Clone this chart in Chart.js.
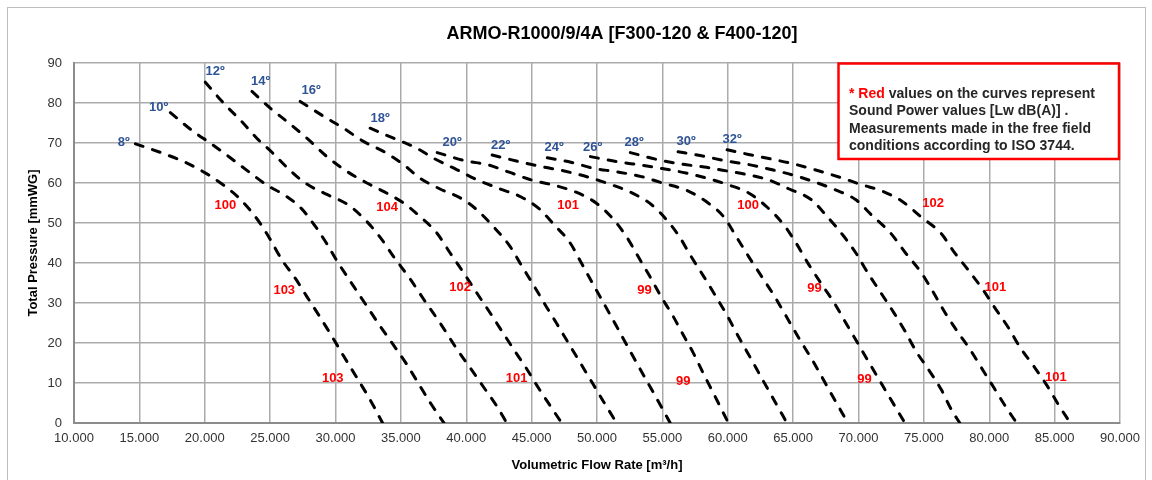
<!DOCTYPE html>
<html><head><meta charset="utf-8">
<script src="https://cdn.jsdelivr.net/npm/chart.js@4/dist/chart.umd.min.js"></script>
<style>html,body{margin:0;padding:0;background:#fff;}canvas{display:block}</style>
</head><body>
<canvas id="c" width="1152" height="480"></canvas>
<script>
// ---------- DATA ----------
const chartTitle = 'ARMO-R1000/9/4A [F300-120 & F400-120]';
const xAxisTitle = 'Volumetric Flow Rate [m³/h]';
const yAxisTitle = 'Total Pressure [mmWG]';

// Fan curves per blade angle: [flow m3/h, pressure mmWG]
const curve8  = [[14700,69.8],[16900,67.3],[18500,65.2],[20100,62.4],[21500,59.3],[22700,56],[24000,51],[24900,46.5],[25900,40.8],[26920,36.2],[27810,31.6],[28830,26.4],[29850,21],[30610,16.8],[31640,11.3],[32650,5.8],[33600,0]];
const curve10 = [[17370,77.6],[19040,73.1],[20500,69.8],[21800,66.7],[23250,63.1],[24700,59.6],[26230,56.7],[27400,53.6],[28450,49.2],[29300,45],[30100,40.6],[31380,34.2],[32400,29.2],[33420,24.2],[34690,18.3],[35460,14.6],[36470,9.2],[37300,4.8],[38300,0]];
const curve12 = [[20040,85.2],[21490,79.8],[22790,75.5],[23980,71.2],[25200,67.5],[26380,63.6],[27680,60],[29290,57.2],[30890,54.7],[32270,50.8],[33420,46.4],[34440,41.6],[35710,36],[36730,31],[38000,25],[39280,18.5],[40300,13.8],[41320,9],[42340,4.2],[43100,0]];
const curve14 = [[23610,82.9],[25010,78.7],[26280,75.4],[27810,71.2],[29340,66.6],[30870,62.9],[32400,60],[33670,57.9],[35200,55],[36470,51.6],[37750,47.5],[38770,42.5],[39790,37.6],[40810,32.5],[41830,27.5],[42600,23.6],[43610,18.5],[44630,13.5],[45400,9.4],[46420,4.3],[47300,0]];
const curve16 = [[27300,80.4],[29080,76.7],[30610,73.7],[32140,70.4],[33670,67.9],[35200,64.6],[36470,61.2],[38000,58.5],[39700,56],[40810,53.3],[42100,49],[43360,44.1],[44130,39.9],[45140,34.5],[46160,28.9],[46930,24.8],[47940,19.3],[48710,15.1],[49720,9.6],[50490,5.4],[51500,0]];
const curve18 = [[32650,73.7],[34440,71.2],[36220,68.7],[37500,66.2],[39300,63.3],[40830,60.8],[42600,58.5],[44200,56.5],[45600,53.5],[46650,49.8],[47950,45],[48840,39.8],[49600,35.3],[50490,30.1],[51390,24.8],[52280,19.5],[53040,15],[53810,10.5],[54570,6.1],[55600,0]];
const curve20 = [[37780,67.6],[40000,65.5],[41600,64.6],[43280,62.7],[45040,60.7],[46650,59.5],[48400,57.7],[49930,55],[51230,51],[52250,46.6],[53150,41.6],[54050,36.6],[54900,31.6],[55800,26.8],[56600,22],[57350,17.6],[58100,12.6],[58880,7.6],[59650,2.6],[60050,0]];
const curve22 = [[41980,67],[44200,65.2],[45900,64],[47500,63],[49300,61.5],[50900,59.8],[52500,57.8],[54200,54.5],[55450,50.3],[56300,46.6],[57200,41.6],[58170,36.6],[59100,31.6],[60000,26.6],[60750,22],[61700,16.5],[62700,10.6],[63600,5.4],[64530,0]];
const curve24 = [[46200,66.3],[48000,65.2],[49700,63.7],[51500,62.8],[53400,61.6],[55000,60],[56900,58.1],[58500,55],[59700,51.5],[60650,46.6],[61600,41.6],[62600,36.6],[63550,31.8],[64450,26.8],[65300,22],[66600,15],[67900,7.4],[69190,0]];
const curve26 = [[49500,66.6],[51600,65.3],[53300,64.5],[55000,63.6],[56800,62.5],[58400,61.2],[60000,59.6],[61600,57.5],[63000,54],[64300,49.5],[65300,44.6],[66200,39.6],[67200,34.6],[68150,30],[69000,25.2],[69700,21.3],[70900,14.6],[72200,7.4],[73550,0]];
const curve28 = [[52550,67.6],[54700,65.8],[56500,64.7],[58200,64],[59600,63.2],[61300,62.2],[63100,60.8],[64700,58.5],[66400,55.8],[67500,52],[68800,47],[69800,42.5],[70700,37.6],[71700,32.6],[72700,27.6],[73550,23],[74430,17.8],[75470,12.8],[76340,8.3],[77110,3.3],[77750,0]];
const curve30 = [[56200,67.8],[58000,66.8],[59900,65.5],[61600,64.6],[63400,63.3],[65300,61.7],[66700,60.2],[68230,58.3],[69800,55.8],[71000,52],[72450,47.5],[73600,42.5],[74800,37.6],[75700,32.8],[76600,27.7],[77600,22.7],[78530,18.4],[79400,13.8],[80360,8.8],[81310,3.8],[82100,0]];
const curve32 = [[59950,68.3],[61500,67.2],[63300,66],[65000,64.8],[67000,63],[68700,61.3],[70200,59.6],[71800,58],[73300,55.5],[74800,51.5],[76340,47.3],[77300,42.8],[78450,38],[79480,33.5],[80430,28.8],[81470,23.8],[82340,19],[83380,14.3],[84370,9.6],[85290,4.6],[86200,0]];
const curves = [curve8, curve10, curve12, curve14, curve16, curve18, curve20, curve22, curve24, curve26, curve28, curve30, curve32];

// Blade angle labels
const angleText = ['8º','10º','12º','14º','16º','18º','20º','22º','24º','26º','28º','30º','32º'];
const angleX = [13810,16480,20800,24280,28140,33420,38920,42630,46720,49660,52840,56820,60340];
const angleY = [70.2,78.8,87.8,85.3,83.2,76.2,70.2,69.4,68.8,69,70.2,70.4,71];

// Sound power labels [Lw dB(A)]
const soundText = ['100','104','101','100','102','103','102','99','99','101','103','101','99','99','101'];
const soundX = [21570,33950,47790,61550,75710,26080,39530,53640,66640,80470,29790,43850,56590,70460,85100];
const soundY = [54.3,54,54.3,54.3,54.8,33.2,34,33.2,33.7,34,11.2,11.2,10.5,11,11.3];

// Axis ranges / ticks
const xMin = 10000, xMax = 90000, xStep = 5000;
const yMin = 0, yMax = 90, yStep = 10;

// Note box text
const noteLine1Red = '* Red';
const noteLine1Rest = ' values on the curves represent';
const noteLines = ['Sound Power values [Lw dB(A)] .', 'Measurements made in the free field', 'conditions according to ISO 3744.'];

// ---------- CHART ----------
const FONT = '"Liberation Sans", Arial, sans-serif';

const decorPlugin = {
  id: 'decor',
  beforeDraw(chart) {
    const ctx = chart.ctx;
    ctx.save();
    ctx.fillStyle = '#fff';
    ctx.fillRect(0, 0, chart.width, chart.height);
    ctx.strokeStyle = '#BDBDBD';
    ctx.lineWidth = 1;
    ctx.strokeRect(7.5, 7.5, 1138, 520);
    ctx.restore();
  },
  afterDraw(chart) {
    const ctx = chart.ctx;
    const xs = chart.scales.x, ys = chart.scales.y;
    const area = chart.chartArea;
    ctx.save();
    // title
    ctx.fillStyle = '#000';
    ctx.font = 'bold 18px ' + FONT;
    ctx.textAlign = 'center';
    ctx.textBaseline = 'middle';
    ctx.fillText(chartTitle, 622, 34);
    // axis titles
    ctx.font = 'bold 13px ' + FONT;
    ctx.fillText(xAxisTitle, (area.left + area.right) / 2, 465);
    ctx.save();
    ctx.translate(33, (area.top + area.bottom) / 2);
    ctx.rotate(-Math.PI / 2);
    ctx.fillText(yAxisTitle, 0, 0);
    ctx.restore();

    // angle labels
    ctx.font = 'bold 13px ' + FONT;
    ctx.fillStyle = '#2F5496';
    angleText.forEach((t, i) => {
      ctx.fillText(t, xs.getPixelForValue(angleX[i]), ys.getPixelForValue(angleY[i]));
    });
    // sound labels
    ctx.fillStyle = '#FF0000';
    soundText.forEach((t, i) => {
      ctx.fillText(t, xs.getPixelForValue(soundX[i]), ys.getPixelForValue(soundY[i]));
    });

    // note box
    const bx = 838.5, by = 63.5, bw = 280.5, bh = 95.5;
    ctx.fillStyle = '#fff';
    ctx.fillRect(bx, by, bw, bh);
    ctx.strokeStyle = '#FF0000';
    ctx.lineWidth = 2.5;
    ctx.strokeRect(bx, by, bw, bh);
    ctx.font = 'bold 14px ' + FONT;
    ctx.textAlign = 'left';
    ctx.textBaseline = 'middle';
    const tx = 849, ty0 = 94, lh = 17.5;
    ctx.fillStyle = '#FF0000';
    ctx.fillText(noteLine1Red, tx, ty0);
    const w = ctx.measureText(noteLine1Red).width;
    ctx.fillStyle = '#262626';
    ctx.fillText(noteLine1Rest, tx + w, ty0);
    noteLines.forEach((l, i) => ctx.fillText(l, tx, ty0 + lh * (i + 1)));
    ctx.restore();
  }
};

const datasets = curves.map((c, i) => ({
  label: angleText[i],
  data: c.map(p => ({ x: p[0], y: p[1] })),
  showLine: true,
  borderColor: '#000',
  borderWidth: 3,
  borderDash: [8, 10],
  borderCapStyle: 'round',
  pointRadius: 0,
  pointHoverRadius: 0,
  fill: false,
  cubicInterpolationMode: 'monotone'
}));

new Chart(document.getElementById('c'), {
  type: 'scatter',
  data: { datasets },
  options: {
    responsive: false,
    devicePixelRatio: 1,
    animation: false,
    layout: { padding: { top: 63, right: 32, bottom: 0, left: 0 } },
    plugins: { legend: { display: false }, tooltip: { enabled: false }, title: { display: false } },
    scales: {
      x: {
        type: 'linear', min: xMin, max: xMax,
        afterFit(s) { s.height = 57; },
        ticks: {
          stepSize: xStep, padding: 8, color: '#333',
          font: { family: FONT, size: 13 },
          maxRotation: 0, autoSkip: false,
          callback: v => (v / 1000).toFixed(3)
        },
        grid: { color: '#ABABAB', lineWidth: 1.5, drawTicks: false },
        border: { color: '#8C8C8C', width: 2 }
      },
      y: {
        type: 'linear', min: yMin, max: yMax,
        afterFit(s) { s.width = 74; },
        ticks: {
          stepSize: yStep, padding: 12, color: '#333',
          font: { family: FONT, size: 13 }
        },
        grid: { color: '#ABABAB', lineWidth: 1.5, drawTicks: false },
        border: { color: '#8C8C8C', width: 2 }
      }
    }
  },
  plugins: [decorPlugin]
});
</script>
</body></html>
